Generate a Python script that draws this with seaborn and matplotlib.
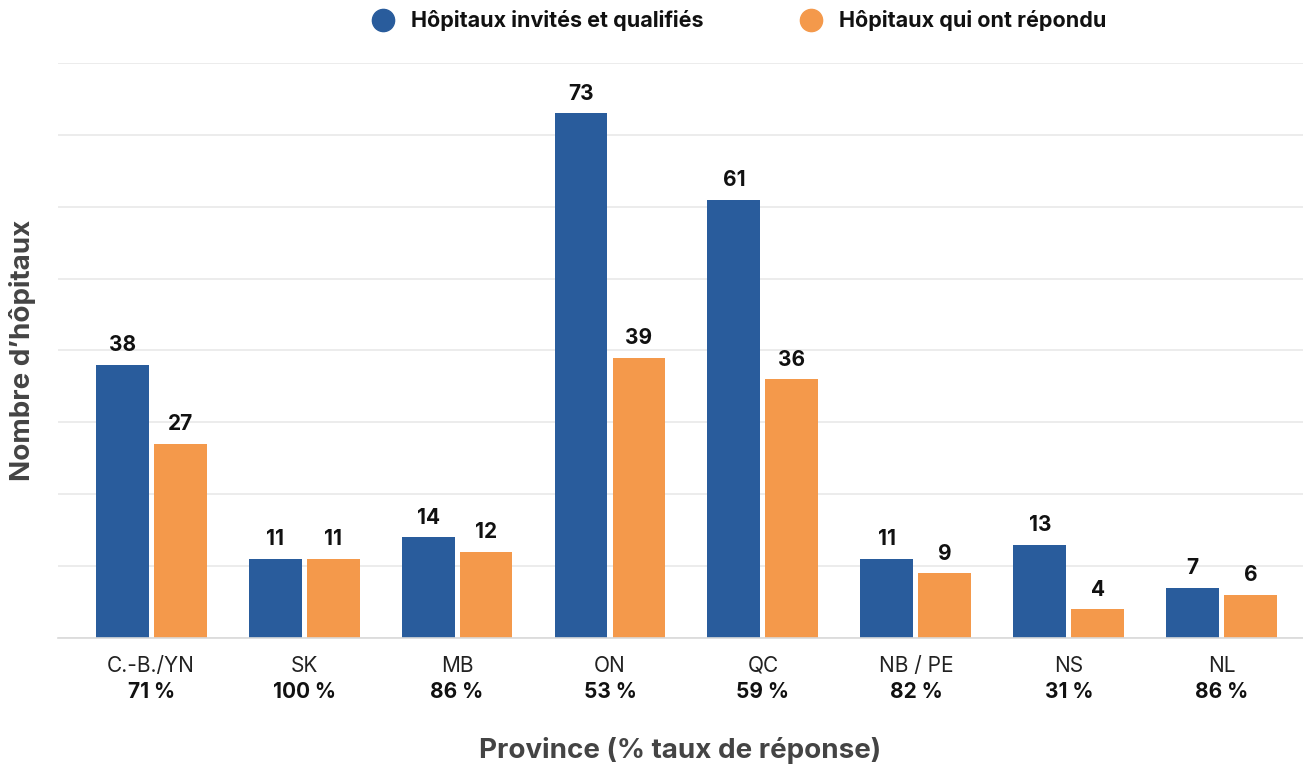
import matplotlib
matplotlib.use("Agg")
import matplotlib.pyplot as plt
from matplotlib.lines import Line2D
import seaborn as sns
import pandas as pd

provinces = ["C.-B./YN", "SK", "MB", "ON", "QC", "NB / PE", "NS", "NL"]
response_rates = ["71 %", "100 %", "86 %", "53 %", "59 %", "82 %", "31 %", "86 %"]
invited = [38, 11, 14, 73, 61, 11, 13, 7]
responded = [27, 11, 12, 39, 36, 9, 4, 6]
series_names = ["Hôpitaux invités et qualifiés", "Hôpitaux qui ont répondu"]
colors = ["#295C9C", "#F4994B"]

df = pd.DataFrame({
    "province": provinces * 2,
    "serie": [series_names[0]] * len(provinces) + [series_names[1]] * len(provinces),
    "valeur": invited + responded,
})

sns.set_theme(style="white")
plt.rcParams["font.family"] = ["Inter", "DejaVu Sans"]

fig = plt.figure(figsize=(13.03, 7.66), dpi=100)
ax = fig.add_axes([0.0445, 0.1671, 0.9555, 0.7507])

sns.barplot(data=df, x="province", y="valeur", hue="serie", order=provinces,
            hue_order=series_names, palette=colors, width=0.758, gap=0.087,
            saturation=1, legend=False, linewidth=0, ax=ax)

for cont in ax.containers:
    for bar in cont:
        h = bar.get_height()
        ax.annotate(f"{int(h)}", (bar.get_x() + bar.get_width() / 2, h),
                    xytext=(0, 7), textcoords="offset points",
                    ha="center", va="bottom", fontsize=15, fontweight="bold",
                    color="#111111")

ax.set_ylim(0, 80)
ax.set_xlim(-0.609, 7.531)
ax.set_yticks(range(0, 81, 10))
ax.set_yticklabels([])
ax.tick_params(axis="y", length=0)
ax.yaxis.grid(True, color="#EBEBEB", linewidth=1.3)
ax.set_axisbelow(True)
for s in ["left", "right", "top"]:
    ax.spines[s].set_visible(False)
ax.spines["bottom"].set_color("#D9D9D9")
ax.spines["bottom"].set_linewidth(1.2)

ax.set_xticks(range(len(provinces)))
ax.set_xticklabels([])
ax.tick_params(axis="x", length=0)
for i, (p, r) in enumerate(zip(provinces, response_rates)):
    ax.annotate(p, (i, 0), xytext=(0, -20), textcoords="offset points",
                ha="center", va="center", fontsize=15, color="#222222")
    ax.annotate(r, (i, 0), xytext=(0, -39), textcoords="offset points",
                ha="center", va="center", fontsize=15, fontweight="bold",
                color="#111111")

ax.set_xlabel("Province (% taux de réponse)", fontsize=20, fontweight="bold",
              color="#444444", labelpad=68)
ax.set_ylabel("Nombre d\u2019hôpitaux", fontsize=20, fontweight="bold",
              color="#444444", labelpad=12)

handles = [Line2D([0], [0], marker="o", linestyle="", markersize=16,
                  markerfacecolor=c, markeredgecolor=c) for c in colors]
leg = fig.legend(handles, series_names, loc="center", bbox_to_anchor=(0.563, 0.973),
                 ncol=2, frameon=False, columnspacing=4.0, handletextpad=0.3,
                 prop={"size": 15.5, "weight": "bold"})
for t in leg.get_texts():
    t.set_color("#111111")

fig.savefig("out.png", dpi=100)
